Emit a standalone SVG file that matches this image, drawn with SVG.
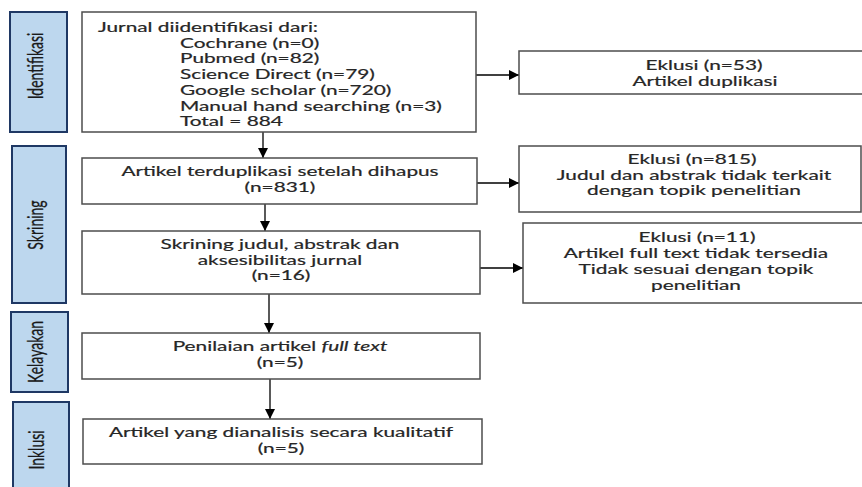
<svg xmlns="http://www.w3.org/2000/svg" width="862" height="487" viewBox="0 0 862 487">
<defs>
<style>
.box{fill:#ffffff;stroke:#4d4d4d;stroke-width:1.5}
.side{fill:#bdd7ee;stroke:#1f3864;stroke-width:2}
.t{font-family:Lato,"Open Sans",sans-serif;font-size:13px;fill:#262626;stroke:#262626;stroke-width:0.2}
.c{text-anchor:middle}
.s{font-family:Lato,"Open Sans",sans-serif;font-size:14px;fill:#1a1a1a;stroke:#1a1a1a;stroke-width:0.2;text-anchor:middle}
.ln{stroke:#000000;stroke-width:1.3;fill:none;marker-end:url(#ah)}
</style>
<marker id="ah" markerUnits="userSpaceOnUse" markerWidth="11" markerHeight="10" refX="10" refY="5" orient="auto">
<path d="M0,0 L10,5 L0,10 Z" fill="#000000"/>
</marker>
</defs>
<rect width="862" height="487" fill="#ffffff"/>

<g id="side-identifikasi">
<rect class="side" x="10" y="12" width="57" height="120"/>
<text class="s" transform="translate(43,66) rotate(-90) scale(1,1.45)">Identifikasi</text>
</g>
<g id="side-skrining">
<rect class="side" x="12" y="146" width="54" height="157"/>
<text class="s" transform="translate(43,225) rotate(-90) scale(1,1.45)">Skrining</text>
</g>
<g id="side-kelayakan">
<rect class="side" x="11" y="312" width="57" height="80"/>
<text class="s" transform="translate(43,352) rotate(-90) scale(1,1.45)">Kelayakan</text>
</g>
<g id="side-inklusi">
<rect class="side" x="13" y="402" width="56" height="100"/>
<text class="s" transform="translate(44,450) rotate(-90) scale(1,1.45)">Inklusi</text>
</g>

<g id="connectors">
<line class="ln" x1="263" y1="132" x2="263" y2="158"/>
<line class="ln" x1="265" y1="204" x2="265" y2="231"/>
<line class="ln" x1="269" y1="294" x2="269" y2="333"/>
<line class="ln" x1="270" y1="379" x2="270" y2="419"/>
<line class="ln" x1="476" y1="75" x2="519" y2="75"/>
<line class="ln" x1="477" y1="183" x2="519" y2="183"/>
<line class="ln" x1="480" y1="268" x2="523" y2="268"/>
</g>

<g id="identified">
<rect class="box" x="82" y="12" width="394" height="120"/>
<text class="t" transform="translate(98,32) scale(1.6,1)">Jurnal diidentifikasi dari:</text>
<text class="t" transform="translate(180,47.7) scale(1.6,1)">Cochrane (n=0)</text>
<text class="t" transform="translate(180,63.4) scale(1.6,1)">Pubmed (n=82)</text>
<text class="t" transform="translate(180,79.1) scale(1.6,1)">Science Direct (n=79)</text>
<text class="t" transform="translate(180,94.8) scale(1.6,1)">Google scholar (n=720)</text>
<text class="t" transform="translate(180,110.5) scale(1.6,1)">Manual hand searching (n=3)</text>
<text class="t" transform="translate(180,126.2) scale(1.6,1)">Total = 884</text>
</g>

<g id="dedup">
<rect class="box" x="82" y="158" width="395" height="46"/>
<text class="t c" transform="translate(280,176) scale(1.6,1)">Artikel terduplikasi setelah dihapus</text>
<text class="t c" transform="translate(280,191.5) scale(1.6,1)">(n=831)</text>
</g>

<g id="screening">
<rect class="box" x="82" y="231" width="398" height="63"/>
<text class="t c" transform="translate(280,249) scale(1.6,1)">Skrining judul, abstrak dan</text>
<text class="t c" transform="translate(280,264.7) scale(1.6,1)">aksesibilitas jurnal</text>
<text class="t c" transform="translate(281,280.4) scale(1.6,1)">(n=16)</text>
</g>

<g id="eligibility">
<rect class="box" x="82" y="333" width="398" height="46"/>
<text class="t c" transform="translate(280,351) scale(1.6,1)">Penilaian artikel <tspan font-style="italic">full text</tspan></text>
<text class="t c" transform="translate(280,366.7) scale(1.6,1)">(n=5)</text>
</g>

<g id="included">
<rect class="box" x="83" y="419" width="399" height="45"/>
<text class="t c" transform="translate(281,437) scale(1.6,1)">Artikel yang dianalisis secara kualitatif</text>
<text class="t c" transform="translate(281,452.7) scale(1.6,1)">(n=5)</text>
</g>

<g id="excl-1">
<rect class="box" x="519" y="51" width="400" height="43"/>
<text class="t c" transform="translate(704,70) scale(1.6,1)">Eklusi (n=53)</text>
<text class="t c" transform="translate(705,85.7) scale(1.6,1)">Artikel duplikasi</text>
</g>

<g id="excl-2">
<rect class="box" x="519" y="146" width="342" height="66"/>
<text class="t c" transform="translate(692,164) scale(1.6,1)">Eklusi (n=815)</text>
<text class="t c" transform="translate(694,179.7) scale(1.6,1)">Judul dan abstrak tidak terkait</text>
<text class="t c" transform="translate(694,195.4) scale(1.6,1)">dengan topik penelitian</text>
</g>

<g id="excl-3">
<rect class="box" x="523" y="223" width="400" height="80"/>
<text class="t c" transform="translate(697,241.5) scale(1.6,1)">Eklusi (n=11)</text>
<text class="t c" transform="translate(696,257.7) scale(1.6,1)">Artikel full text tidak tersedia</text>
<text class="t c" transform="translate(696,273.9) scale(1.6,1)">Tidak sesuai dengan topik</text>
<text class="t c" transform="translate(696,290.1) scale(1.6,1)">penelitian</text>
</g>
</svg>
